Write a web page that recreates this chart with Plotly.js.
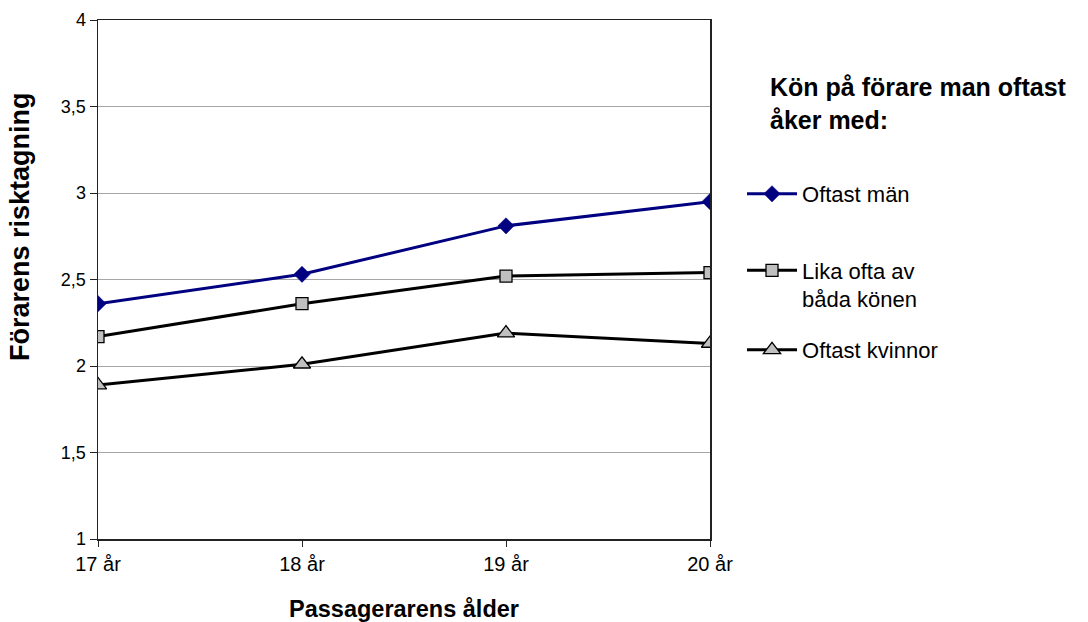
<!DOCTYPE html>
<html>
<head>
<meta charset="utf-8">
<script src="https://cdn.plot.ly/plotly-3.0.1.min.js"></script>
<style>
  html, body { margin: 0; padding: 0; background: #ffffff; }
  #chart { width: 1088px; height: 622px; }
</style>
</head>
<body>
<div id="chart"></div>
<script>
// Passenger age groups on the x axis
const ages = ['17 år', '18 år', '19 år', '20 år'];

// Mean driver risk-taking, by the sex of the driver one most often rides with
const oftastMan = [2.36, 2.53, 2.81, 2.95];
const likaOfta = [2.17, 2.36, 2.52, 2.54];
const oftastKvinnor = [1.89, 2.01, 2.19, 2.13];

const seriesNames = ['Oftast män', 'Lika ofta av<br>båda könen', 'Oftast kvinnor'];
const legendHeading = 'Kön på förare man oftast<br>åker med:';
const xTitle = 'Passagerarens ålder';
const yTitle = 'Förarens risktagning';

const yTicks = [1, 1.5, 2, 2.5, 3, 3.5, 4];

const FONT = '"Liberation Sans", Arial, sans-serif';

// plot box in pixels, used to place the free-standing texts in paper units
const W = 1088, H = 622;
const box = { l: 98, r: 710, t: 20, b: 539 };
const px = x => (x - box.l) / (box.r - box.l);
const py = y => (box.b - y) / (box.b - box.t);

const traces = [
  {
    x: ages, y: oftastMan, name: seriesNames[0], type: 'scatter', mode: 'lines+markers',
    legend: 'legend',
    line: { color: '#000080', width: 3 },
    marker: { symbol: 'diamond', size: 12.5, color: '#000080', line: { color: '#000080', width: 0.5 } }
  },
  {
    x: ages, y: likaOfta, name: seriesNames[1], type: 'scatter', mode: 'lines+markers',
    legend: 'legend2',
    line: { color: '#000000', width: 3 },
    marker: { symbol: 'square', size: 12, color: '#c0c0c0', line: { color: '#000000', width: 1.3 } }
  },
  {
    x: ages, y: oftastKvinnor, name: seriesNames[2], type: 'scatter', mode: 'lines+markers',
    legend: 'legend3',
    line: { color: '#000000', width: 3 },
    marker: { symbol: 'triangle-up', size: 15, color: '#c0c0c0', line: { color: '#000000', width: 1.3 } }
  }
];

const legendCommon = {
  xref: 'container', yref: 'container',
  x: 0.682, xanchor: 'left',
  bgcolor: 'rgba(0,0,0,0)', borderwidth: 0,
  font: { family: FONT, size: 22, color: '#000000' },
  itemwidth: 50, valign: 'top', tracegroupgap: 0
};

const layout = {
  width: W, height: H,
  margin: { l: box.l, r: W - box.r, t: box.t, b: H - box.b, pad: 0 },
  paper_bgcolor: '#ffffff', plot_bgcolor: '#ffffff',
  separators: ', ',
  font: { family: FONT, color: '#000000' },
  xaxis: {
    type: 'category', range: [0, 3],
    showgrid: false, zeroline: false,
    showline: true, linecolor: '#222222', linewidth: 1.5, mirror: true,
    ticks: 'outside', ticklen: 6, tickcolor: '#222222', tickwidth: 1,
    tickfont: { family: FONT, size: 20, color: '#000000' },
    title: { text: '<b>' + xTitle + '</b>', font: { family: FONT, size: 23.5, color: '#000000' }, standoff: 28 },
    automargin: false
  },
  yaxis: {
    range: [1, 4], tickvals: yTicks,
    showgrid: true, gridcolor: '#a6a6a6', gridwidth: 1, zeroline: false,
    showline: true, linecolor: '#222222', linewidth: 1.5, mirror: true,
    ticks: 'outside', ticklen: 7, tickcolor: '#222222', tickwidth: 1,
    tickfont: { family: FONT, size: 18, color: '#000000' },
    automargin: false
  },
  legend: Object.assign({}, legendCommon, { y: 1 - 194 / H, yanchor: 'middle' }),
  legend2: Object.assign({}, legendCommon, { y: 1 - 285 / H, yanchor: 'middle' }),
  legend3: Object.assign({}, legendCommon, { y: 1 - 350 / H, yanchor: 'middle' }),
  annotations: [
    {
      xref: 'paper', yref: 'paper',
      x: px(768), y: py(71), xanchor: 'left', yanchor: 'top', align: 'left',
      text: '<b>' + legendHeading + '</b>', showarrow: false,
      font: { family: FONT, size: 25, color: '#000000' }
    },
    {
      xref: 'paper', yref: 'paper',
      x: px(20), y: py(227), xanchor: 'center', yanchor: 'middle',
      textangle: -90,
      text: '<b>' + yTitle + '</b>', showarrow: false,
      font: { family: FONT, size: 27, color: '#000000' }
    }
  ],
  showlegend: true
};

Plotly.newPlot('chart', traces, layout, { displayModeBar: false, staticPlot: true });
</script>
</body>
</html>
